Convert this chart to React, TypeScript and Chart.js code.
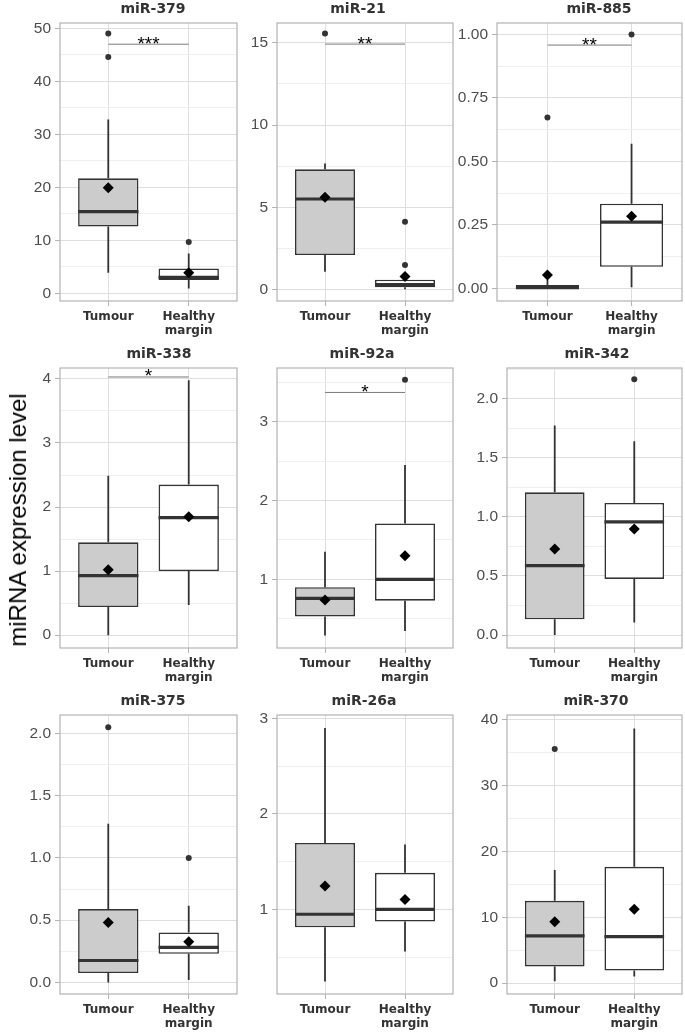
import React, { useEffect, useRef } from 'react';
import { Chart, registerables } from 'chart.js';

Chart.register(...registerables);

// ---------------- data ----------------
const TITLES = ['miR-379', 'miR-21', 'miR-885', 'miR-338', 'miR-92a', 'miR-342', 'miR-375', 'miR-26a', 'miR-370'];
const GROUPS = ['Tumour', 'Healthy margin'];
const GROUP_TICK_LINES = [['Tumour'], ['Healthy', 'margin']];
const Y_TITLE = 'miRNA expression level';

// each entry: [Tumour, Healthy margin]
const WHISKER_LOW = [[3.9, 0.9], [1.11, 0.05], [0, 0.004], [0, 0.47], [0.29, 0.345], [0, 0.105], [0, 0.02], [0.245, 0.558], [0.25, 1.0]];
const Q1 = [[12.6, 2.5], [2.12, 0.17], [0, 0.085], [0.44, 1.0], [0.53, 0.73], [0.133, 0.475], [0.075, 0.23], [0.813, 0.872], [2.52, 1.9]];
const MEDIAN = [[15.4, 3.0], [5.52, 0.33], [0.003, 0.261], [0.93, 1.835], [0.76, 1.0], [0.588, 0.957], [0.176, 0.281], [0.949, 1.0], [7.17, 7.07]];
const Q3 = [[21.7, 4.7], [7.32, 0.62], [0.013, 0.333], [1.45, 2.35], [0.9, 1.71], [1.208, 1.118], [0.589, 0.401], [1.696, 1.383], [12.5, 17.67]];
const WHISKER_HIGH = [[32.8, 7.5], [7.68, 1.05], [0.033, 0.569], [2.49, 3.98], [1.35, 2.45], [1.774, 1.64], [1.273, 0.615], [2.9, 1.68], [17.17, 38.7]];
const MEAN = [[19.9, 3.9], [5.62, 0.81], [0.052, 0.284], [1.02, 1.85], [0.74, 1.3], [0.727, 0.897], [0.481, 0.326], [1.244, 1.105], [9.33, 11.2]];
const OUTLIERS = [
  [[49.0, 44.6], [9.7]],
  [[15.57], [4.14, 1.52]],
  [[0.673], [1.0]],
  [[], []],
  [[], [3.53]],
  [[], [2.165]],
  [[2.048], [0.998]],
  [[], []],
  [[35.6], []],
];
const SIG_LABEL = ['***', '**', '**', '*', '*', '', '', '', ''];
const SIG_Y = [47.0, 14.92, 0.958, 4.03, 3.37, null, null, null, null];

const Y_MIN = [-1.45, -0.67, -0.05, -0.2, 0.13, -0.11, -0.093, 0.114, -1.67];
const Y_MAX = [51.0, 16.2, 1.045, 4.17, 3.68, 2.26, 2.147, 3.036, 40.76];
const Y_STEP = [10, 5, 0.25, 1, 1, 0.5, 0.5, 1, 10];
const Y_DECIMALS = [0, 0, 2, 0, 0, 1, 1, 0, 0];

// ---------------- layout / style ----------------
// plot area [left, top, right, bottom] and title centre x, in page pixels
const GEOM = [
  [60, 23, 237, 301, 153],
  [277, 23, 453, 301, 358],
  [497, 23, 682, 301, 599],
  [60, 368, 237, 648, 159],
  [277, 368, 453, 648, 362],
  [507, 368, 682, 648, 597],
  [60, 715, 237, 994, 153],
  [277, 715, 453, 994, 364],
  [507, 715, 682, 994, 596],
];
const Y_AXIS_W = 50;
const TITLE_H = 22;
const TITLE_GAP = 13.8; // plot top to title centre
const X_AXIS_H = 40;
const BOX_WIDTH = 0.75;
const FILLS = ['#cccccc', '#ffffff'];
const LINE_COLOR = '#333333';

function isMajor(v: number, step: number) {
  const r = v / step;
  return Math.abs(r - Math.round(r)) < 1e-6;
}

const framePlugin = {
  id: 'frameAndSig',
  afterDatasetsDraw(chart: any, _args: any, opts: any) {
    const { ctx, chartArea: a, scales } = chart;
    ctx.save();
    ctx.strokeStyle = '#b3b3b3';
    ctx.lineWidth = 1.2;
    ctx.strokeRect(a.left, a.top, a.right - a.left, a.bottom - a.top);
    if (opts.label && opts.y != null) {
      const x = (scales.x.getPixelForValue(1) + scales.x.getPixelForValue(2)) / 2;
      const y = scales.y.getPixelForValue(opts.y);
      ctx.fillStyle = '#000';
      ctx.font = '19px "Liberation Sans", Arial, sans-serif';
      ctx.textAlign = 'center';
      ctx.textBaseline = 'alphabetic';
      ctx.fillText(opts.label, x, y + 5.5);
    }
    // panel title, centred on the canvas
    ctx.fillStyle = '#333';
    ctx.font = 'bold 14px "DejaVu Sans", Verdana, sans-serif';
    ctx.textAlign = 'center';
    ctx.textBaseline = 'middle';
    ctx.fillText(opts.title, chart.width / 2, a.top - TITLE_GAP);
    ctx.restore();
  },
};

function makeConfig(i: number, padRight: number): any {
  const xs = GROUPS.map((_, g) => g + 1);
  const half = BOX_WIDTH / 2;
  const boxes = xs.map((x, g) => ({ x, y: [Q1[i][g], Q3[i][g]] }));
  const medians: any[] = [];
  const whiskers: any[] = [];
  const outliers: any[] = [];
  xs.forEach((x, g) => {
    medians.push({ x: x - half, y: MEDIAN[i][g] }, { x: x + half, y: MEDIAN[i][g] }, { x: x + 0.5, y: null });
    whiskers.push(
      { x, y: Q3[i][g] }, { x, y: WHISKER_HIGH[i][g] }, { x, y: null },
      { x, y: Q1[i][g] }, { x, y: WHISKER_LOW[i][g] }, { x, y: null },
    );
    OUTLIERS[i][g].forEach((v) => outliers.push({ x, y: v }));
  });
  const means = xs.map((x, g) => ({ x, y: MEAN[i][g] }));
  const sig = SIG_Y[i] != null ? [{ x: 1, y: SIG_Y[i] }, { x: 2, y: SIG_Y[i] }] : [];
  const step = Y_STEP[i];
  const halfStep = step / 2;

  return {
    type: 'bar',
    data: {
      datasets: [
        { type: 'scatter', data: means, pointStyle: 'rectRot', pointRadius: 5.5, pointHoverRadius: 5.5, backgroundColor: '#000', borderColor: '#000', borderWidth: 0 },
        { type: 'scatter', data: outliers, pointStyle: 'circle', pointRadius: 3, pointHoverRadius: 3, backgroundColor: LINE_COLOR, borderWidth: 0 },
        { type: 'line', data: sig, borderColor: '#7a7a7a', borderWidth: 1, pointRadius: 0 },
        { type: 'line', data: medians, borderColor: LINE_COLOR, borderWidth: 3.2, pointRadius: 0, borderCapStyle: 'butt' },
        {
          type: 'bar', data: boxes, backgroundColor: FILLS, borderColor: LINE_COLOR, borderWidth: 1.6,
          borderSkipped: false, barPercentage: BOX_WIDTH, categoryPercentage: 1, grouped: false,
        },
        { type: 'line', data: whiskers, borderColor: LINE_COLOR, borderWidth: 1.8, pointRadius: 0, borderCapStyle: 'butt' },
      ],
    },
    options: {
      responsive: false,
      animation: false,
      events: [],
      layout: { padding: { left: 0, top: TITLE_H, bottom: 0, right: padRight } },
      plugins: {
        legend: { display: false },
        tooltip: { enabled: false },
        title: { display: false },
        frameAndSig: { label: SIG_LABEL[i], y: SIG_Y[i], title: TITLES[i] },
      },
      scales: {
        x: {
          type: 'linear',
          min: 0.4,
          max: 2.6,
          offset: false,
          afterBuildTicks: (s: any) => { s.ticks = xs.map((v) => ({ value: v })); },
          afterFit: (s: any) => { s.height = X_AXIS_H; },
          border: { display: false },
          grid: { offset: false, color: '#dedede', lineWidth: 1, tickColor: '#b3b3b3', tickLength: 5, drawTicks: true },
          ticks: {
            autoSkip: false,
            maxRotation: 0,
            padding: 4,
            color: '#333',
            font: { family: '"DejaVu Sans", Verdana, sans-serif', size: 12, weight: 'bold', lineHeight: 1.17 },
            callback: (v: number) => GROUP_TICK_LINES[Math.round(v) - 1] || '',
          },
        },
        y: {
          type: 'linear',
          min: Y_MIN[i],
          max: Y_MAX[i],
          afterBuildTicks: (s: any) => {
            const t: any[] = [];
            for (let v = Math.ceil(Y_MIN[i] / halfStep - 1e-9) * halfStep; v <= Y_MAX[i] + 1e-9; v += halfStep) {
              t.push({ value: Math.round(v * 1e6) / 1e6 });
            }
            s.ticks = t;
          },
          afterFit: (s: any) => { s.width = Y_AXIS_W; },
          border: { display: false },
          grid: {
            color: (c: any) => (c.tick && isMajor(c.tick.value, step) ? '#dedede' : '#efefef'),
            tickColor: (c: any) => (c.tick && isMajor(c.tick.value, step) ? '#b3b3b3' : 'rgba(0,0,0,0)'),
            lineWidth: 1,
            tickLength: 5,
          },
          ticks: {
            autoSkip: false,
            padding: 4,
            color: '#4d4d4d',
            font: { family: '"Liberation Sans", Arial, sans-serif', size: 15.5 },
            callback: (v: number) => (isMajor(v, step) ? Number(v).toFixed(Y_DECIMALS[i]) : ''),
          },
        },
      },
    },
    plugins: [framePlugin],
  };
}

function Panel({ i }: { i: number }) {
  const ref = useRef<HTMLCanvasElement | null>(null);
  const [l, t, r, b, tx] = GEOM[i];
  const left = l - Y_AXIS_W;
  const top = t - TITLE_H;
  const width = Math.max(2 * (tx - left), Y_AXIS_W + (r - l) + 2);
  const height = TITLE_H + (b - t) + X_AXIS_H;
  const padRight = width - Y_AXIS_W - (r - l);
  useEffect(() => {
    if (!ref.current) return;
    const chart = new Chart(ref.current, makeConfig(i, padRight));
    return () => chart.destroy();
  }, [i, padRight]);
  return (
    <canvas
      ref={ref}
      width={width}
      height={height}
      style={{ position: 'absolute', left, top, width, height }}
    />
  );
}

export default function App() {
  return (
    <div style={{ position: 'absolute', left: 0, top: 0, width: 685, height: 1035, overflow: 'hidden', background: '#fff' }}>
      {TITLES.map((_, i) => <Panel key={i} i={i} />)}
      <div
        style={{
          position: 'absolute', left: 18, top: 520, transform: 'translate(-50%, -50%) rotate(-90deg)',
          whiteSpace: 'nowrap', fontFamily: '"Liberation Sans", Arial, sans-serif', fontSize: 24, color: '#000', lineHeight: 1,
        }}
      >
        {Y_TITLE}
      </div>
    </div>
  );
}
